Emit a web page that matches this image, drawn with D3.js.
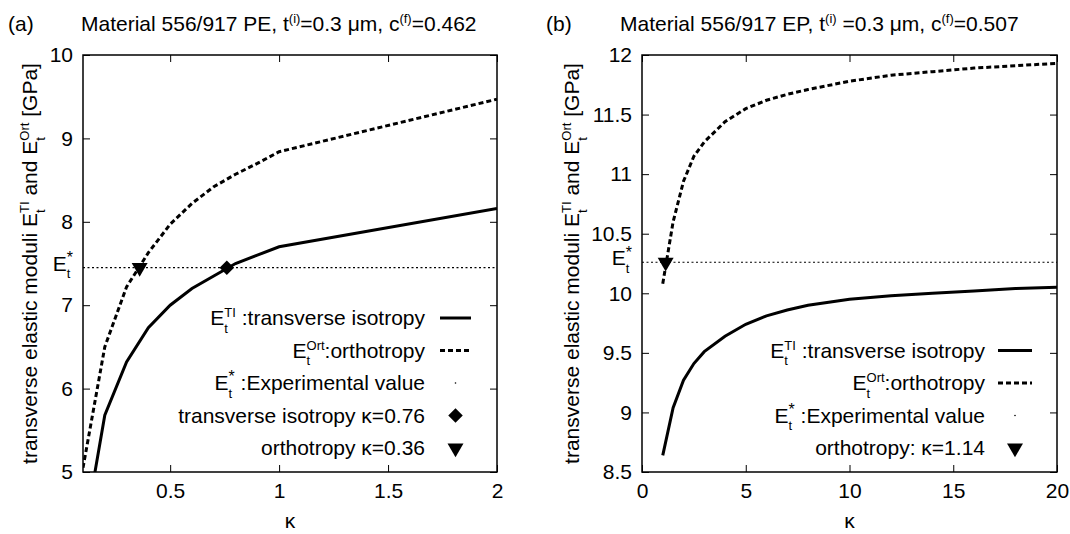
<!DOCTYPE html>
<html>
<head>
<meta charset="utf-8">
<script src="https://cdn.jsdelivr.net/npm/d3@7.9.0/dist/d3.min.js"></script>
<style>
body { margin: 0; background: #fff; }
svg { font-family: "Liberation Sans", Arial, sans-serif; }
svg text { white-space: pre; }
</style>
</head>
<body>
<svg id="chart" width="1070" height="534"></svg>
<script>
// panel (a): 556/917 PE
const kappaA = [0.1, 0.2, 0.3, 0.4, 0.5, 0.6, 0.7, 0.8, 0.9, 1.0, 2.0];
const tiA    = [4.17, 5.68, 6.32, 6.73, 7.0, 7.2, 7.35, 7.5, 7.6, 7.7, 8.16];
const ortA   = [5.05, 6.5, 7.22, 7.63, 7.97, 8.22, 8.42, 8.57, 8.7, 8.84, 9.47];
const expA = 7.45;
const xTicksA = [0.5, 1, 1.5, 2];
const yTicksA = [5, 6, 7, 8, 9, 10];

// panel (b): 556/917 EP
const kappaB = [1, 1.5, 2, 2.5, 3, 4, 5, 6, 7, 8, 10, 12, 14, 16, 18, 20];
const tiB    = [8.64, 9.04, 9.27, 9.41, 9.51, 9.64, 9.74, 9.81, 9.86, 9.9, 9.95, 9.98, 10.0, 10.02, 10.04, 10.05];
const ortB   = [10.08, 10.6, 10.94, 11.15, 11.27, 11.44, 11.55, 11.62, 11.67, 11.71, 11.78, 11.83, 11.86, 11.89, 11.91, 11.93];
const expB = 10.26;
const xTicksB = [0, 5, 10, 15, 20];
const yTicksB = [8.5, 9, 9.5, 10, 10.5, 11, 11.5, 12];

const svg = d3.select("#chart");
const FS = 21;

// text with sub/superscripts laid out piece by piece
function rich(parent, parts, size) {
    const g = parent.append("g").style("font-size", size + "px");
    const small = Math.round(size * 0.64);
    let x = 0;
    for (const p of parts) {
        if (typeof p === "string") {
            const t = g.append("text").attr("x", x).text(p);
            x += t.node().getComputedTextLength();
        } else {
            let w = 0;
            if (p.sub) {
                const t = g.append("text").attr("x", x).attr("y", size * 0.36)
                    .style("font-size", small + "px").text(p.sub);
                w = Math.max(w, t.node().getComputedTextLength());
            }
            if (p.sup) {
                const t = g.append("text").attr("x", x).attr("y", -size * 0.36)
                    .style("font-size", (p.supSize || small) + "px").text(p.sup);
                w = Math.max(w, t.node().getComputedTextLength());
            }
            x += w;
        }
    }
    return { g, width: x };
}

function drawPanel(cfg) {
    const w = cfg.right - cfg.left, h = cfg.bottom - cfg.top;
    const x = d3.scaleLinear().domain(cfg.xDomain).range([0, w]);
    const y = d3.scaleLinear().domain(cfg.yDomain).range([h, 0]);

    // tag + title
    svg.append("text").attr("x", cfg.tagX).attr("y", 31).style("font-size", FS + "px").text(cfg.tag);
    const title = rich(svg, cfg.title, FS);
    title.g.attr("transform", `translate(${cfg.titleX},31)`);

    const g = svg.append("g").attr("transform", `translate(${cfg.left},${cfg.top})`);

    const clipId = "clip-" + cfg.id;
    g.append("clipPath").attr("id", clipId).append("rect").attr("width", w).attr("height", h);

    // axes, gnuplot style: inward ticks mirrored on all sides
    const fmt = d3.format("~g");
    const xa = g.append("g").attr("transform", `translate(0,${h})`)
        .call(d3.axisBottom(x).tickValues(cfg.xTicks).tickSize(-7).tickPadding(11).tickFormat(fmt));
    const ya = g.append("g")
        .call(d3.axisLeft(y).tickValues(cfg.yTicks).tickSize(-7).tickPadding(10).tickFormat(fmt));
    g.append("g").call(d3.axisTop(x).tickValues(cfg.xTicks).tickSize(-7).tickFormat(""));
    g.append("g").attr("transform", `translate(${w},0)`)
        .call(d3.axisRight(y).tickValues(cfg.yTicks).tickSize(-7).tickFormat(""));
    g.selectAll(".domain").remove();
    g.selectAll(".tick line").attr("stroke", "#000").attr("stroke-width", 1);
    [xa, ya].forEach(a => a.attr("font-size", null).attr("font-family", null)
        .selectAll("text").style("font-size", FS + "px").attr("fill", "#000"));

    g.append("rect").attr("width", w).attr("height", h)
        .attr("fill", "none").attr("stroke", "#000").attr("stroke-width", 1.5);

    // experimental value line
    g.append("line").attr("x1", 0).attr("x2", w).attr("y1", y(cfg.exp)).attr("y2", y(cfg.exp))
        .attr("stroke", "#000").attr("stroke-width", 1.1).attr("stroke-dasharray", "2,2.5");

    const line = d3.line().x(d => x(d[0])).y(d => y(d[1]));
    const lines = g.append("g").attr("clip-path", `url(#${clipId})`);
    lines.append("path").datum(d3.zip(cfg.kappa, cfg.ti)).attr("d", line)
        .attr("fill", "none").attr("stroke", "#000").attr("stroke-width", 3);
    lines.append("path").datum(d3.zip(cfg.kappa, cfg.ort)).attr("d", line)
        .attr("fill", "none").attr("stroke", "#000").attr("stroke-width", 3)
        .attr("stroke-dasharray", "5,3");

    const sym = {
        diamond: d3.symbol(d3.symbolSquare, 105),
        triangle: d3.symbol(d3.symbolTriangle, 110)
    };
    const rot = s => s === "triangle" ? " rotate(180)" : " rotate(45)";
    cfg.marks.forEach(m => {
        g.append("path").attr("d", sym[m.shape]())
            .attr("transform", `translate(${x(m.k)},${y(cfg.exp)})${rot(m.shape)}`)
            .attr("fill", "#000");
    });

    // E_t^* label beside the y axis
    const es = rich(g, ["E", { sub: "t", sup: "*", supSize: 16 }], FS);
    es.g.attr("transform", `translate(${-10 - es.width},${y(cfg.exp) + 3})`);

    // y axis title
    const yl = rich(svg, ["transverse elastic moduli E", { sub: "t", sup: "TI" }, " and E", { sub: "t", sup: "Ort" }, " [GPa]"], FS);
    yl.g.attr("transform", `translate(${cfg.yLabelX},${cfg.top + h / 2 + yl.width / 2}) rotate(-90)`);

    // x axis title
    svg.append("text").attr("x", cfg.left + w / 2).attr("y", 528).attr("text-anchor", "middle")
        .style("font-size", FS + "px").text("κ");

    // legend, anchored at its bottom row
    const rows = cfg.legend;
    rows.forEach((r, i) => {
        const cy = cfg.legendBottom - (rows.length - 1 - i) * 32.5;
        const t = rich(svg, r.label, FS);
        t.g.attr("transform", `translate(${cfg.legendTextX - t.width},${cy + 7})`);
        const [s0, s1] = cfg.legendSample;
        if (r.kind === "solid" || r.kind === "dashed") {
            svg.append("line").attr("x1", s0).attr("x2", s1).attr("y1", cy).attr("y2", cy)
                .attr("stroke", "#000").attr("stroke-width", 3)
                .attr("stroke-dasharray", r.kind === "dashed" ? "5,3" : null);
        } else if (r.kind === "dot") {
            svg.append("circle").attr("cx", (s0 + s1) / 2).attr("cy", cy).attr("r", 0.8).attr("fill", "#000");
        } else {
            svg.append("path").attr("d", sym[r.kind]())
                .attr("transform", `translate(${(s0 + s1) / 2},${cy})${rot(r.kind)}`)
                .attr("fill", "#000");
        }
    });
}

const legendCommon = [
    { kind: "solid", label: ["E", { sub: "t", sup: "TI" }, " :transverse isotropy"] },
    { kind: "dashed", label: ["E", { sub: "t", sup: "Ort" }, ":orthotropy"] },
    { kind: "dot", label: ["E", { sub: "t", sup: "*", supSize: 16 }, " :Experimental value"] }
];

drawPanel({
    id: "a", tag: "(a)", tagX: 8, titleX: 81,
    title: ["Material 556/917 PE, t", { sup: "(i)" }, "=0.3 μm, c", { sup: "(f)" }, "=0.462"],
    left: 83, top: 55, right: 497, bottom: 472,
    xDomain: [0.1, 2], yDomain: [5, 10], xTicks: xTicksA, yTicks: yTicksA,
    kappa: kappaA, ti: tiA, ort: ortA, exp: expA,
    marks: [{ k: 0.76, shape: "diamond" }, { k: 0.36, shape: "triangle" }],
    yLabelX: 37,
    legendBottom: 448, legendTextX: 425, legendSample: [440, 471],
    legend: legendCommon.concat([
        { kind: "diamond", label: ["transverse isotropy κ=0.76"] },
        { kind: "triangle", label: ["orthotropy κ=0.36"] }
    ])
});

drawPanel({
    id: "b", tag: "(b)", tagX: 546, titleX: 620,
    title: ["Material 556/917 EP, t", { sup: "(i)" }, " =0.3 μm, c", { sup: "(f)" }, "=0.507"],
    left: 642, top: 55, right: 1057, bottom: 472,
    xDomain: [0, 20], yDomain: [8.5, 12], xTicks: xTicksB, yTicks: yTicksB,
    kappa: kappaB, ti: tiB, ort: ortB, exp: expB,
    marks: [{ k: 1.14, shape: "triangle" }],
    yLabelX: 579,
    legendBottom: 448, legendTextX: 985, legendSample: [998, 1032],
    legend: legendCommon.concat([
        { kind: "triangle", label: ["orthotropy: κ=1.14"] }
    ])
});
</script>
</body>
</html>
